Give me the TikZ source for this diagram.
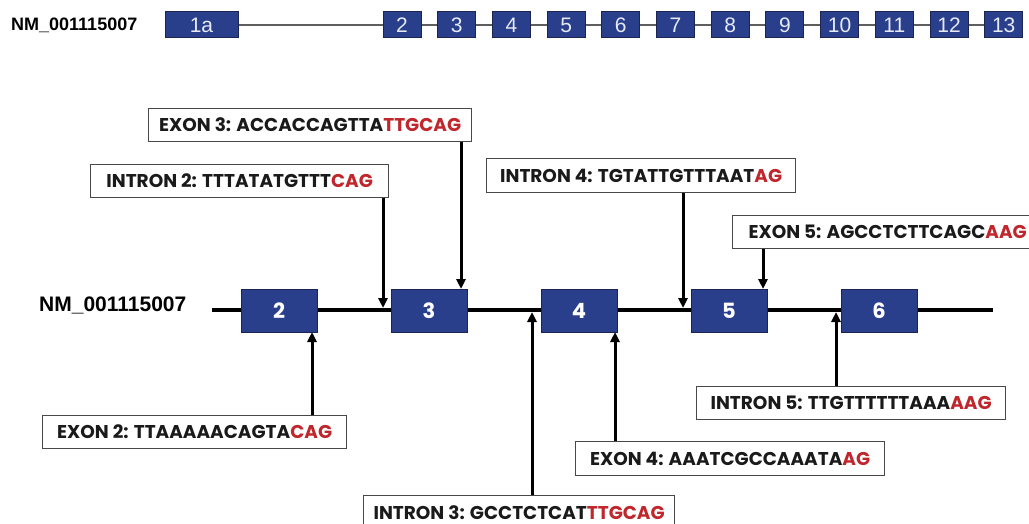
\documentclass[tikz,border=0pt]{standalone}
\usepackage{fontspec}
\setmainfont{Liberation Sans}
\newfontfamily\gothicfont{Poppins}
\usepackage{xcolor}
\usepackage{tikz}
\usetikzlibrary{arrows.meta,positioning}
\definecolor{gnExon}{HTML}{2A3F8C}
\definecolor{gnEdge}{HTML}{1C2550}
\definecolor{gnRed}{HTML}{C0272D}
\definecolor{gnInk}{HTML}{1A1A1A}
\definecolor{gnLine}{HTML}{5E5E5E}
\definecolor{gnNum}{HTML}{E6EAF4}
\newcommand{\spliceseq}[2]{#1\textcolor{gnRed}{#2}}
\tikzset{
  gn diagram/.style={x=1pt,y=-1pt},
  gn name/.style={font=\bfseries\fontsize{18}{20}\selectfont, text=black, inner sep=0pt},
  gn small exon/.style={draw=gnEdge, fill=gnExon, line width=1pt,
    minimum width=38pt, minimum height=26pt, inner sep=0pt,
    text=gnNum, font=\fontsize{21}{23}\selectfont},
  gn exon/.style={draw=gnEdge, fill=gnExon, line width=1pt,
    minimum width=76pt, minimum height=43pt, inner sep=0pt,
    text=white, font=\gothicfont\bfseries\fontsize{21}{23}\selectfont},
  gn callout/.style={draw=gnInk!80, fill=white, line width=1.3pt,
    anchor=north west, inner sep=0pt, text=gnInk,
    font=\gothicfont\bfseries\fontsize{18.5}{20}\selectfont},
  gn arrow/.style={-{Triangle[length=10pt,width=9pt]}, draw=black, line width=3pt},
  gn intron/.style={draw=black, line width=3.5pt},
  gn thin/.style={draw=gnLine, line width=1.5pt}
}
\begin{document}
\begin{tikzpicture}[gn diagram]
\useasboundingbox (0,0) rectangle (1029,524);
\node[gn name, anchor=west] (nmtop) at (11,25) {NM\_001115007};
\node[gn small exon, minimum width=73pt] (t1a) at (201.5,25) {1a};
\foreach \k in {2,...,13}
  \node[gn small exon] (t\k) at ({402+54.7*(\k-2)},25) {\k};
\draw[gn thin] (t1a.east) -- (t2.west);
\foreach \k [count=\n from 3] in {2,...,12}
  \draw[gn thin] (t\k.east) -- (t\n.west);

\node[gn name, font=\bfseries\fontsize{21}{23}\selectfont, anchor=west] (nmlow) at (39,305) {NM\_001115007};
\coordinate (lineL) at (212,310);
\coordinate (lineR) at (993,310);
\draw[gn intron] (lineL) -- (lineR);
\foreach \k in {2,...,6}
  \node[gn exon] (e\k) at ({279+150*(\k-2)},310.5) {\k};

\node[gn callout, minimum width=323pt, minimum height=33pt] (ex3) at (148,108) {\spliceseq{EXON 3: ACCACCAGTTA}{TTGCAG}};
\node[gn callout, minimum width=298pt, minimum height=33pt] (in2) at (90,164) {\spliceseq{INTRON 2: TTTATATGTTT}{CAG}};
\node[gn callout, minimum width=309pt, minimum height=34pt] (in4) at (486,158) {\spliceseq{INTRON 4: TGTATTGTTTAAT}{AG}};
\node[gn callout, minimum width=310pt, minimum height=33pt] (ex5) at (732,215) {\spliceseq{EXON 5: AGCCTCTTCAGC}{AAG}};
\node[gn callout, minimum width=304pt, minimum height=33pt] (ex2) at (42,415) {\spliceseq{EXON 2: TTAAAAACAGTA}{CAG}};
\node[gn callout, minimum width=311pt, minimum height=34pt] (in3) at (363,495) {\spliceseq{INTRON 3: GCCTCTCAT}{TTGCAG}};
\node[gn callout, minimum width=309pt, minimum height=34pt] (ex4) at (575,441) {\spliceseq{EXON 4: AAATCGCCAAATA}{AG}};
\node[gn callout, minimum width=309pt, minimum height=33pt] (in5) at (696,386) {\spliceseq{INTRON 5: TTGTTTTTTAAA}{AAG}};

\coordinate (pex3) at (461,289);
\coordinate (pin2) at (383,308);
\coordinate (pin4) at (683,308);
\coordinate (pex5) at (763,289);
\coordinate (pex2) at (312,332);
\coordinate (pin3) at (532,312);
\coordinate (pex4) at (615,332);
\coordinate (pin5) at (836,312);
\foreach \c in {ex3,in2,in4,ex5}
  \draw[gn arrow] (\c.south -| p\c) -- (p\c);
\foreach \c in {ex2,in3,ex4,in5}
  \draw[gn arrow] (\c.north -| p\c) -- (p\c);
\end{tikzpicture}
\end{document}
